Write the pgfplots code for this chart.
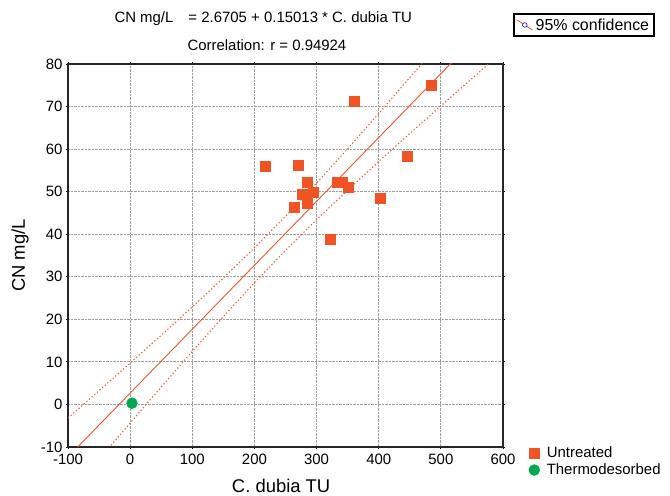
\documentclass[border=0pt]{standalone}
\usepackage{fontspec}
\setmainfont{Liberation Sans}
\usepackage{pgfplots}
\pgfplotsset{compat=1.18}
\definecolor{mred}{RGB}{240,84,36}
\definecolor{mgreen}{RGB}{0,168,80}
\begin{document}
\begin{tikzpicture}[x=1bp,y=1bp]
\path[use as bounding box] (0,0) rectangle (670,496);
\begin{axis}[
  at={(68bp,49bp)}, anchor=south west, scale only axis,
  width=435bp, height=383bp,
  xmin=-100, xmax=600, ymin=-10, ymax=80,
  xtick={-100,0,...,600}, ytick={-10,0,...,80},
  grid=major, grid style={densely dotted, gray!75, line width=0.8pt},
  axis line style={line width=1.3pt, black!85},
  tick align=outside, major tick length=2bp, tick style={black, line width=0.8pt},
  /pgf/number format/assume math mode=true,
  ticklabel style={font=\fontsize{15}{17}\selectfont},
  xticklabel style={yshift=-2bp},
  xlabel={C. dubia TU}, ylabel={CN mg/L},
  label style={font=\fontsize{18.5}{20}\selectfont},
  xlabel style={at={(axis description cs:0.49,-0.102)}, anchor=center},
  ylabel style={at={(axis description cs:-0.11,0.5)}, anchor=center},
  legend style={at={(1.052,0.012)}, anchor=north west, draw=none, fill=none,
    font=\fontsize{15}{17}\selectfont, row sep=1bp, column sep=5bp},
  legend cell align=left,
]
\addplot[mred, line width=0.9pt, forget plot] coordinates {(-100,-12.343) (600,92.748)};
\addplot[mred, line width=1.1pt, dash pattern=on 1.2bp off 2.3bp, forget plot] coordinates {
(-100,-3.17) (-50,3.25) (0,9.72) (50,16.26) (100,22.90) (150,29.72) (200,36.80) (250,44.21)
(300,52.00) (350,60.08) (400,68.37) (450,76.80) (500,85.32) (550,93.89) (600,102.5)};
\addplot[mred, line width=1.1pt, dash pattern=on 1.2bp off 2.3bp, forget plot] coordinates {
(-100,-21.5) (-50,-12.92) (0,-4.38) (50,4.10) (100,12.46) (150,20.66) (200,28.60) (250,36.19)
(300,43.42) (350,50.35) (400,57.07) (450,63.66) (500,70.15) (550,76.59) (600,83.0)};
\addplot[only marks, mark=square*, mark size=5bp, mark options={draw=mred, fill=mred}] coordinates {
(217.6,55.9) (270.5,56.3) (284.3,52.2) (277.4,49.5) (294.0,49.8) (284.3,47.3) (264.0,46.4)
(332.9,52.2) (341.0,52.2) (351.6,51.1) (360.1,71.3) (446.0,58.3) (401.8,48.4) (321.7,38.9) (485.0,75.0)};
\addlegendentry{Untreated}
\addplot[only marks, mark=*, mark size=5.5bp, mark options={draw=mgreen, fill=mgreen}] coordinates {(3,0.3)};
\addlegendentry{Thermodesorbed}
\end{axis}
\begin{axis}[
  at={(584bp,471bp)}, anchor=center, hide axis, scale only axis,
  width=10bp, height=10bp, xmin=0, xmax=1, ymin=0, ymax=1,
  legend style={at={(0.5,0.5)}, anchor=center, draw=black, line width=2pt, fill=white,
    font=\fontsize{16}{18}\selectfont, inner sep=2.5bp, column sep=1bp},
  legend image code/.code={
    \draw[mred, line width=0.8pt] (0bp,5bp) -- (15bp,-5bp);
    \draw[blue!70!black, fill=white, line width=0.6pt] (7.5bp,0bp) circle (2.3bp);},
]
\addlegendimage{mred}
\addlegendentry{95\% confidence}
\end{axis}
\node[anchor=west, font=\fontsize{15}{17}\selectfont] at (111,477) {CN mg/L\hspace{15bp}= 2.6705 + 0.15013 * C. dubia TU};
\node[anchor=west, font=\fontsize{15}{17}\selectfont] at (184,451) {Correlation: r = 0.94924};
\end{tikzpicture}
\end{document}
